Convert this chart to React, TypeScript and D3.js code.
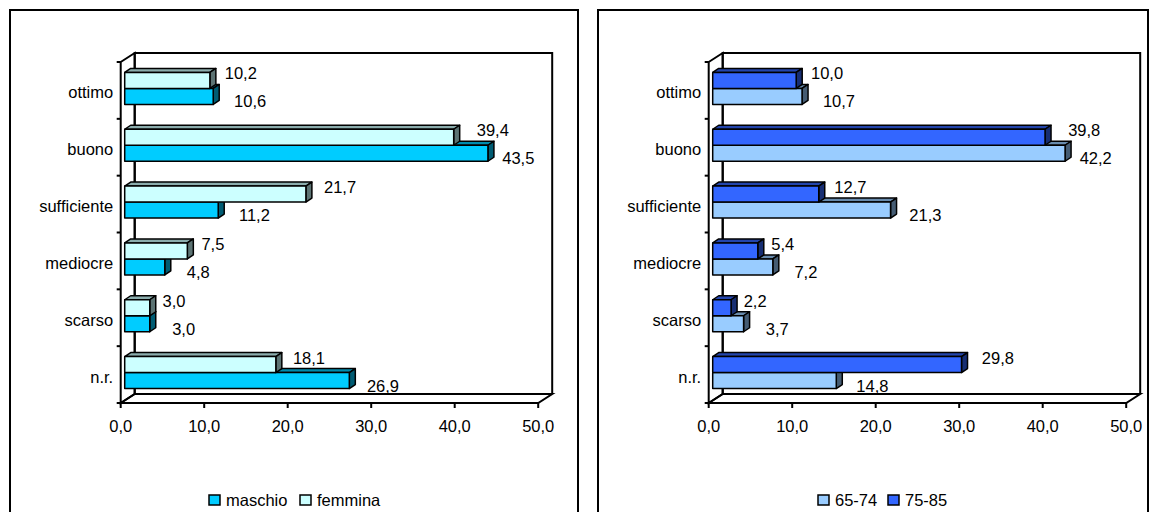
import React from "react";
import * as d3 from "d3";

const categories = ["ottimo", "buono", "sufficiente", "mediocre", "scarso", "n.r."];
const maschio = [10.6, 43.5, 11.2, 4.8, 3.0, 26.9];
const femmina = [10.2, 39.4, 21.7, 7.5, 3.0, 18.1];
const eta6574 = [10.7, 42.2, 21.3, 7.2, 3.7, 14.8];
const eta7585 = [10.0, 39.8, 12.7, 5.4, 2.2, 29.8];
const xTicks = [0, 10, 20, 30, 40, 50];

type Series = { name: string; values: number[]; color: string };

const shade = (c: string, k: number) => {
  const r = d3.rgb(c);
  return d3.rgb(r.r * k, r.g * k, r.b * k).formatHex();
};

const fmt = (v: number) => v.toFixed(1).replace(".", ",");
const FONT = "'Liberation Sans', Arial, sans-serif";
const FS = 16.5;

function Panel({ fx, fw, lower, upper, legendX, legendGap }: { fx: number; fw: number; lower: Series; upper: Series; legendX: number; legendGap: number }) {
  const ax = fx + 110.7;
  const x = d3.scaleLinear().domain([0, 50]).range([ax, ax + 417.5]);
  const y = d3.scaleBand<string>().domain(categories).range([62, 403]);
  const DX = 14, DY = -9;
  const bdx = 6, bdy = -4, bh = 16;
  const xb = (v: number) => x(v) + 4;
  const x50 = x(50);
  const yTop = y.range()[0];
  const yBot = y.range()[1];

  const box = (v: number, top: number, col: string, key: string) => {
    const x1 = xb(0), x2 = xb(v), y1 = top, y2 = top + bh;
    return (
      <g key={key} stroke="#000" strokeWidth={1.5} strokeLinejoin="round">
        <polygon points={`${x1},${y1} ${x1 + bdx},${y1 + bdy} ${x2 + bdx},${y1 + bdy} ${x2},${y1}`} fill={shade(col, 0.68)} />
        <polygon points={`${x2},${y1} ${x2 + bdx},${y1 + bdy} ${x2 + bdx},${y2 + bdy} ${x2},${y2}`} fill={shade(col, 0.45)} />
        <rect x={x1} y={y1} width={x2 - x1} height={bh} fill={col} />
      </g>
    );
  };

  return (
    <g>
      <rect x={fx} y={10} width={fw} height={540} fill="#fff" stroke="#000" strokeWidth={2} />
      <g fill="none" stroke="#000" strokeWidth={2}>
        <polyline points={`${ax + DX},${yBot + DY} ${ax + DX},${yTop + DY} ${x50 + DX},${yTop + DY} ${x50 + DX},${yBot + DY}`} />
        <polygon points={`${ax},${yTop} ${ax + DX},${yTop + DY} ${ax + DX},${yBot + DY} ${ax},${yBot}`} />
        <polygon points={`${ax},${yBot} ${ax + DX},${yBot + DY} ${x50 + DX},${yBot + DY} ${x50},${yBot}`} />
      </g>
      <g stroke="#000" strokeWidth={2}>
        {[...categories.map((c) => y(c)!), yBot].map((t, i) => (
          <line key={i} x1={ax - 4} x2={ax} y1={t} y2={t} />
        ))}
        {xTicks.map((t) => (
          <line key={t} x1={x(t)} x2={x(t)} y1={yBot} y2={yBot + 5} />
        ))}
      </g>
      {categories.map((c, i) => {
        const cc = y(c)! + y.bandwidth() / 2 - 2;
        return (
          <g key={c}>
            {box(lower.values[i], cc, lower.color, "l")}
            {box(upper.values[i], cc - bh, upper.color, "u")}
          </g>
        );
      })}
      <g fontFamily={FONT} fontSize={FS} fill="#000">
        {categories.map((c) => (
          <text key={c} x={ax - 7.5} y={y(c)! + y.bandwidth() / 2 + 2} textAnchor="end" dominantBaseline="central">
            {c}
          </text>
        ))}
        {xTicks.map((t) => (
          <text key={t} x={x(t)} y={426} textAnchor="middle" dominantBaseline="central">
            {fmt(t)}
          </text>
        ))}
        {categories.map((c, i) => {
          const cc = y(c)! + y.bandwidth() / 2 - 2;
          const vu = upper.values[i];
          const vl = lower.values[i];
          return (
            <g key={c}>
              <text x={xb(vu) + 12 + 0.28 * vu} y={cc - bh + 1} dominantBaseline="central">
                {fmt(vu)}
              </text>
              <text x={xb(vl) + 23 - 0.2 * vl} y={cc + bh - 3} dominantBaseline="central">
                {fmt(vl)}
              </text>
            </g>
          );
        })}
      </g>
      <g fontFamily={FONT} fontSize={FS}>
        <rect x={legendX} y={495} width={11} height={10} fill={lower.color} stroke="#000" strokeWidth={1.5} />
        <text x={legendX + 17} y={500} dominantBaseline="central">{lower.name}</text>
        <rect x={legendX + legendGap} y={495} width={11} height={10} fill={upper.color} stroke="#000" strokeWidth={1.5} />
        <text x={legendX + legendGap + 17} y={500} dominantBaseline="central">{upper.name}</text>
      </g>
    </g>
  );
}

export default function App() {
  return (
    <svg width={1155} height={512} style={{ position: "absolute", left: 0, top: 0, background: "#fff" }}>
      <Panel
        fx={10}
        fw={568}
        lower={{ name: "maschio", values: maschio, color: "#00CCFF" }}
        upper={{ name: "femmina", values: femmina, color: "#CCFFFF" }}
        legendX={209}
        legendGap={91}
      />
      <Panel
        fx={598}
        fw={550}
        lower={{ name: "65-74", values: eta6574, color: "#99CCFF" }}
        upper={{ name: "75-85", values: eta7585, color: "#3366FF" }}
        legendX={818}
        legendGap={70}
      />
    </svg>
  );
}
